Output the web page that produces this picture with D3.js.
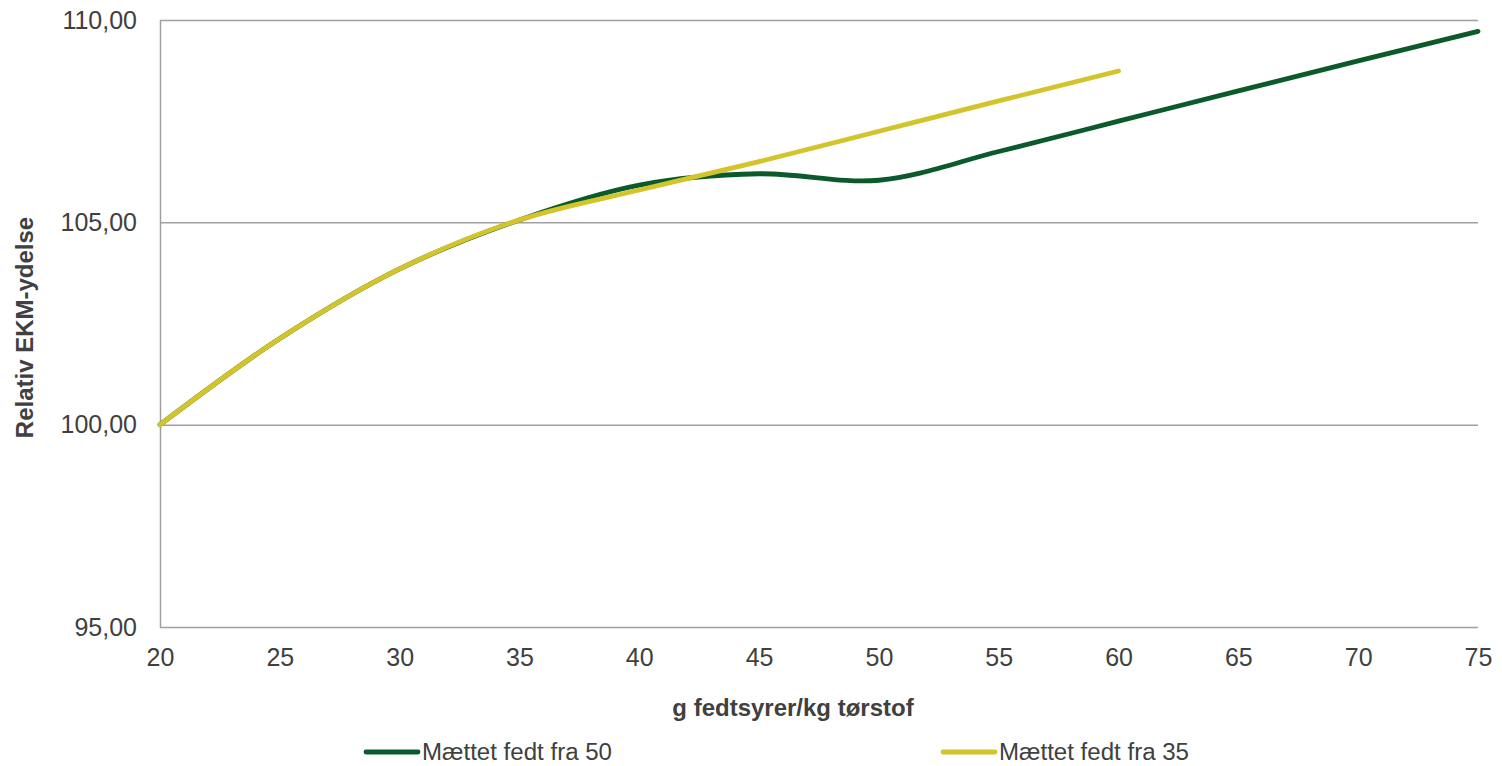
<!DOCTYPE html>
<html>
<head>
<meta charset="utf-8">
<script src="https://cdn.jsdelivr.net/npm/d3@7"></script>
<style>
  html, body { margin: 0; padding: 0; background: #fff; }
  svg { display: block; font-family: "Liberation Sans", Arial, sans-serif; }
</style>
</head>
<body>
<svg id="chart" width="1502" height="766"></svg>
<script>
// g fatty acids per kg dry matter
const xTicks = [20, 25, 30, 35, 40, 45, 50, 55, 60, 65, 70, 75];
const yTicks = [95, 100, 105, 110];

const xFra50 = [20, 25, 30, 35, 40, 45, 50, 55, 60, 65, 70, 75];
const yFra50 = [100, 102.13, 103.85, 105.06, 105.92, 106.2, 106.04, 106.75, 107.5, 108.25, 108.99, 109.72];

const xFra35 = [20, 25, 30, 35, 40, 45, 50, 55, 60];
const yFra35 = [100, 102.13, 103.85, 105.06, 105.8, 106.5, 107.25, 108.0, 108.74];

const seriesNames = ["Mættet fedt fra 50", "Mættet fedt fra 35"];
const seriesColors = ["#0a5a2b", "#d2c42a"];

const xTitle = "g fedtsyrer/kg tørstof";
const yTitle = "Relativ EKM-ydelse";

const svg = d3.select("#chart");
const plot = { left: 160, right: 1478, top: 20, bottom: 627 };

const x = d3.scaleLinear().domain([20, 75]).range([plot.left, plot.right]);
const y = d3.scaleLinear().domain([95, 110]).range([plot.bottom, plot.top]);

const fmt = v => d3.format(".2f")(v).replace(".", ",");

// horizontal gridlines
svg.append("g")
  .selectAll("line")
  .data(yTicks)
  .join("line")
  .attr("x1", plot.left).attr("x2", plot.right)
  .attr("y1", d => y(d) + 0.5).attr("y2", d => y(d) + 0.5)
  .attr("stroke", "#a0a0a0").attr("stroke-width", 1.5);

// left axis line
svg.append("line")
  .attr("x1", plot.left + 0.5).attr("x2", plot.left + 0.5)
  .attr("y1", plot.top).attr("y2", plot.bottom + 1)
  .attr("stroke", "#a0a0a0").attr("stroke-width", 1.5);

// y axis labels
const yAxis = d3.axisLeft(y).tickValues(yTicks).tickFormat(fmt).tickSize(0).tickPadding(23);
const gy = svg.append("g").attr("transform", `translate(${plot.left},0)`).call(yAxis);
gy.select(".domain").remove();
gy.selectAll("text")
  .attr("font-size", 25).attr("fill", "#404040")
  .attr("font-family", "Liberation Sans, Arial, sans-serif");

// x axis labels
const xAxis = d3.axisBottom(x).tickValues(xTicks).tickFormat(d3.format("d")).tickSize(0).tickPadding(21);
const gx = svg.append("g").attr("transform", `translate(0,${plot.bottom})`).call(xAxis);
gx.select(".domain").remove();
gx.selectAll("text")
  .attr("font-size", 25).attr("fill", "#404040")
  .attr("font-family", "Liberation Sans, Arial, sans-serif");

// axis titles
svg.append("text")
  .attr("x", 793).attr("y", 716)
  .attr("text-anchor", "middle")
  .attr("font-size", 24).attr("font-weight", "bold").attr("fill", "#404040")
  .text(xTitle);

svg.append("text")
  .attr("transform", `translate(33,${(218 + 437) / 2}) rotate(-90)`)
  .attr("text-anchor", "middle")
  .attr("font-size", 24).attr("font-weight", "bold").attr("fill", "#404040")
  .text(yTitle);

// series lines
const line = d3.line()
  .x(d => x(d[0]))
  .y(d => y(d[1]))
  .curve(d3.curveCatmullRom.alpha(0.5));

const series = [
  d3.zip(xFra50, yFra50),
  d3.zip(xFra35, yFra35)
];

svg.append("g")
  .selectAll("path")
  .data(series)
  .join("path")
  .attr("d", line)
  .attr("fill", "none")
  .attr("stroke", (d, i) => seriesColors[i])
  .attr("stroke-width", 4.8)
  .attr("stroke-linecap", "round")
  .attr("stroke-linejoin", "round");

// legend
const legendX = [366, 943];
const legend = svg.append("g")
  .selectAll("g")
  .data(seriesNames)
  .join("g")
  .attr("transform", (d, i) => `translate(${legendX[i]},752)`);

legend.append("line")
  .attr("x1", 0).attr("x2", 52)
  .attr("y1", 0).attr("y2", 0)
  .attr("stroke", (d, i) => seriesColors[i])
  .attr("stroke-width", 4.8)
  .attr("stroke-linecap", "round");

legend.append("text")
  .attr("x", 56).attr("y", 8)
  .attr("font-size", 23).attr("fill", "#404040")
  .attr("textLength", 190).attr("lengthAdjust", "spacingAndGlyphs")
  .text(d => d);
</script>
</body>
</html>
